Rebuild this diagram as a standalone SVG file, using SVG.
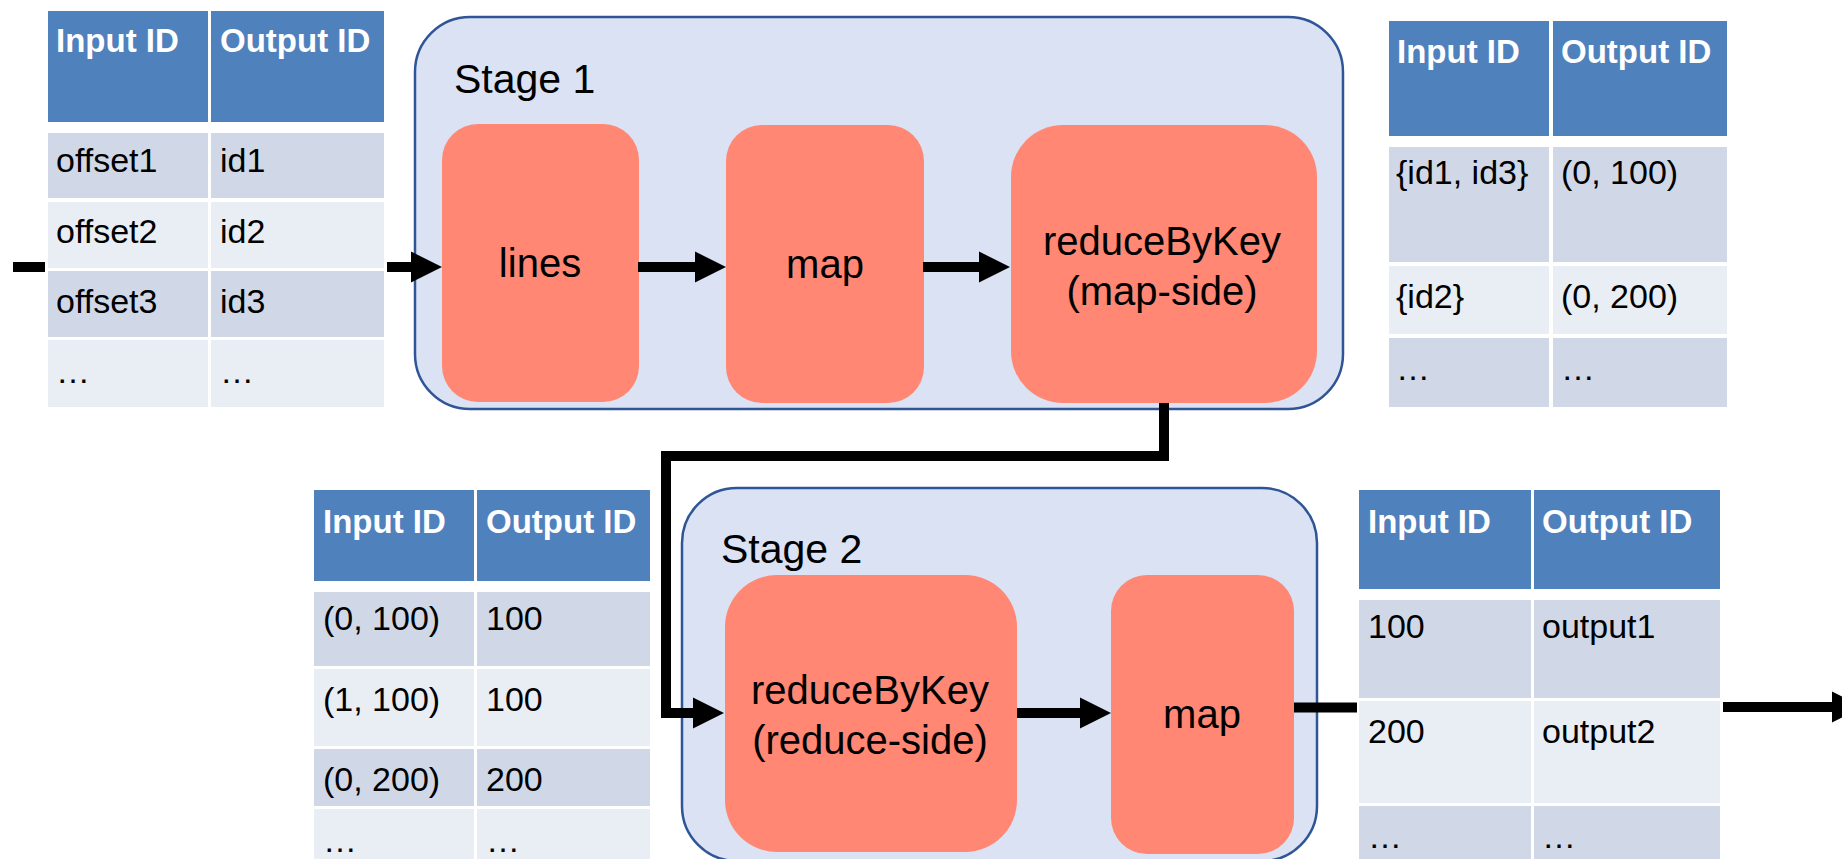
<svg xmlns="http://www.w3.org/2000/svg" width="1842" height="859" viewBox="0 0 1842 859">
<style>
.hd{fill:#4F81BD}
.dk{fill:#D0D8E8}
.lt{fill:#E9EDF4}
.ht{font-family:"Liberation Sans",Arial,sans-serif;font-weight:bold;font-size:33px;fill:#FFFFFF}
.ct{font-family:"Liberation Sans",Arial,sans-serif;font-size:34px;fill:#000000}
.stage{fill:#DAE2F3;stroke:#2F5597;stroke-width:2.5}
.st{font-family:"Liberation Sans",Arial,sans-serif;font-size:41px;fill:#000000}
.op{fill:#FF8774}
.ot{font-family:"Liberation Sans",Arial,sans-serif;font-size:40px;fill:#000000;text-anchor:middle}
.cn{fill:none;stroke:#000000;stroke-width:10;stroke-linejoin:miter}
</style>
<defs>
<marker id="ah" markerUnits="userSpaceOnUse" markerWidth="32" markerHeight="32" refX="0" refY="16" orient="auto" overflow="visible">
<path d="M0,0.5 L31,16 L0,31.5 Z" fill="#000000"/>
</marker>
</defs>

<g id="table-input">
<rect class="hd" x="48" y="11" width="160" height="111"/>
<rect class="hd" x="211" y="11" width="173" height="111"/>
<rect class="dk" x="48" y="133" width="160" height="65"/>
<rect class="dk" x="211" y="133" width="173" height="65"/>
<rect class="lt" x="48" y="202" width="160" height="66"/>
<rect class="lt" x="211" y="202" width="173" height="66"/>
<rect class="dk" x="48" y="271" width="160" height="66"/>
<rect class="dk" x="211" y="271" width="173" height="66"/>
<rect class="lt" x="48" y="340" width="160" height="67"/>
<rect class="lt" x="211" y="340" width="173" height="67"/>
<text class="ht" x="56" y="52">Input ID</text>
<text class="ht" x="220" y="52">Output ID</text>
<text class="ct" x="56" y="172">offset1</text>
<text class="ct" x="220" y="172">id1</text>
<text class="ct" x="56" y="243">offset2</text>
<text class="ct" x="220" y="243">id2</text>
<text class="ct" x="56" y="313">offset3</text>
<text class="ct" x="220" y="313">id3</text>
<text class="ct" x="56" y="383">…</text>
<text class="ct" x="220" y="383">…</text>
</g>

<g id="table-stage1-out">
<rect class="hd" x="1389" y="21" width="160" height="115"/>
<rect class="hd" x="1553" y="21" width="174" height="115"/>
<rect class="dk" x="1389" y="147" width="160" height="115"/>
<rect class="dk" x="1553" y="147" width="174" height="115"/>
<rect class="lt" x="1389" y="266" width="160" height="68"/>
<rect class="lt" x="1553" y="266" width="174" height="68"/>
<rect class="dk" x="1389" y="338" width="160" height="69"/>
<rect class="dk" x="1553" y="338" width="174" height="69"/>
<text class="ht" x="1397" y="63">Input ID</text>
<text class="ht" x="1561" y="63">Output ID</text>
<text class="ct" x="1396" y="184">{id1, id3}</text>
<text class="ct" x="1561" y="184">(0, 100)</text>
<text class="ct" x="1396" y="308">{id2}</text>
<text class="ct" x="1561" y="308">(0, 200)</text>
<text class="ct" x="1396" y="380">…</text>
<text class="ct" x="1561" y="380">…</text>
</g>

<g id="table-stage2-in">
<rect class="hd" x="314" y="490" width="160" height="91"/>
<rect class="hd" x="477" y="490" width="173" height="91"/>
<rect class="dk" x="314" y="592" width="160" height="74"/>
<rect class="dk" x="477" y="592" width="173" height="74"/>
<rect class="lt" x="314" y="669" width="160" height="77"/>
<rect class="lt" x="477" y="669" width="173" height="77"/>
<rect class="dk" x="314" y="749" width="160" height="57"/>
<rect class="dk" x="477" y="749" width="173" height="57"/>
<rect class="lt" x="314" y="809" width="160" height="52"/>
<rect class="lt" x="477" y="809" width="173" height="52"/>
<text class="ht" x="323" y="533">Input ID</text>
<text class="ht" x="486" y="533">Output ID</text>
<text class="ct" x="323" y="630">(0, 100)</text>
<text class="ct" x="486" y="630">100</text>
<text class="ct" x="323" y="711">(1, 100)</text>
<text class="ct" x="486" y="711">100</text>
<text class="ct" x="323" y="791">(0, 200)</text>
<text class="ct" x="486" y="791">200</text>
<text class="ct" x="323" y="852">…</text>
<text class="ct" x="486" y="852">…</text>
</g>

<g id="table-output">
<rect class="hd" x="1359" y="490" width="172" height="99"/>
<rect class="hd" x="1534" y="490" width="186" height="99"/>
<rect class="dk" x="1359" y="600" width="172" height="98"/>
<rect class="dk" x="1534" y="600" width="186" height="98"/>
<rect class="lt" x="1359" y="701" width="172" height="102"/>
<rect class="lt" x="1534" y="701" width="186" height="102"/>
<rect class="dk" x="1359" y="806" width="172" height="55"/>
<rect class="dk" x="1534" y="806" width="186" height="55"/>
<text class="ht" x="1368" y="533">Input ID</text>
<text class="ht" x="1542" y="533">Output ID</text>
<text class="ct" x="1368" y="638">100</text>
<text class="ct" x="1542" y="638">output1</text>
<text class="ct" x="1368" y="743">200</text>
<text class="ct" x="1542" y="743">output2</text>
<text class="ct" x="1368" y="848">…</text>
<text class="ct" x="1542" y="848">…</text>
</g>

<g id="stage1">
<rect class="stage" x="415" y="17" width="928" height="392" rx="55" ry="55"/>
<text class="st" x="454" y="93">Stage 1</text>
</g>
<g id="lines">
<rect class="op" x="442" y="124" width="197" height="278" rx="36" ry="36"/>
<text class="ot" x="540" y="277">lines</text>
</g>
<g id="map1">
<rect class="op" x="726" y="125" width="198" height="278" rx="36" ry="36"/>
<text class="ot" x="825" y="278">map</text>
</g>
<g id="reduce-map-side">
<rect class="op" x="1011" y="125" width="306" height="278" rx="52" ry="52"/>
<text class="ot" x="1162" y="255">reduceByKey</text>
<text class="ot" x="1162" y="305">(map-side)</text>
</g>

<g id="stage2">
<rect class="stage" x="682" y="488" width="635" height="373" rx="55" ry="55"/>
<text class="st" x="721" y="563">Stage 2</text>
</g>
<g id="reduce-reduce-side">
<rect class="op" x="725" y="575" width="292" height="277" rx="52" ry="52"/>
<text class="ot" x="870" y="704">reduceByKey</text>
<text class="ot" x="870" y="754">(reduce-side)</text>
</g>
<g id="map2">
<rect class="op" x="1111" y="575" width="183" height="279" rx="36" ry="36"/>
<text class="ot" x="1202" y="728">map</text>
</g>

<g id="connectors">
<path class="cn" d="M13,267 H45"/>
<path class="cn" d="M387,267 H411" marker-end="url(#ah)"/>
<path class="cn" d="M638,267 H695" marker-end="url(#ah)"/>
<path class="cn" d="M923,267 H979" marker-end="url(#ah)"/>
<path class="cn" d="M1164,403 V456 H666 V713 H693" marker-end="url(#ah)"/>
<path class="cn" d="M1017,713 H1080" marker-end="url(#ah)"/>
<path class="cn" d="M1294,707.5 H1357"/>
<path class="cn" d="M1723,707 H1832" marker-end="url(#ah)"/>
</g>
</svg>
